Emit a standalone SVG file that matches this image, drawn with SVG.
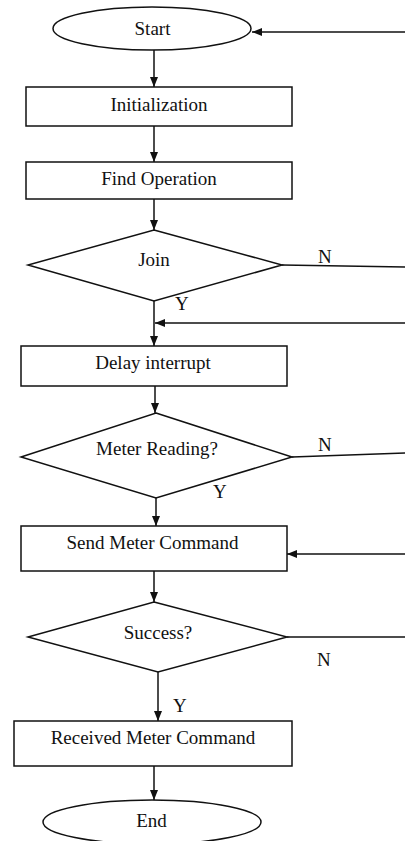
<svg xmlns="http://www.w3.org/2000/svg" width="405" height="841" viewBox="0 0 405 841">
<style>
.s{fill:#fff;stroke:#111;stroke-width:1.5}
.t{font-family:"Liberation Serif","Times New Roman",serif;font-size:19px;fill:#111;text-anchor:middle}
.l{font-family:"Liberation Serif","Times New Roman",serif;font-size:19px;fill:#111}
.c{fill:none;stroke:#111;stroke-width:1.5}
</style>
<defs>
<marker id="a" markerWidth="10" markerHeight="8" refX="10" refY="4" orient="auto" markerUnits="userSpaceOnUse">
<path d="M0,0 L10,4 L0,8 z" fill="#111"/>
</marker>
</defs>
<rect width="405" height="841" fill="#fff"/>
<g id="connectors">
<line class="c" x1="405" y1="32" x2="252" y2="32" marker-end="url(#a)"/>
<line class="c" x1="154" y1="50" x2="154" y2="87" marker-end="url(#a)"/>
<line class="c" x1="154" y1="126" x2="154" y2="162" marker-end="url(#a)"/>
<line class="c" x1="154" y1="199" x2="154" y2="230" marker-end="url(#a)"/>
<line class="c" x1="282" y1="265" x2="405" y2="267"/>
<line class="c" x1="154" y1="301" x2="154" y2="346" marker-end="url(#a)"/>
<line class="c" x1="405" y1="323" x2="155" y2="323" marker-end="url(#a)"/>
<line class="c" x1="155" y1="386" x2="155" y2="413" marker-end="url(#a)"/>
<line class="c" x1="292" y1="457" x2="405" y2="453"/>
<line class="c" x1="156" y1="498" x2="156" y2="526" marker-end="url(#a)"/>
<line class="c" x1="405" y1="554" x2="287" y2="554" marker-end="url(#a)"/>
<line class="c" x1="154" y1="571" x2="154" y2="602" marker-end="url(#a)"/>
<line class="c" x1="287" y1="637" x2="405" y2="637"/>
<line class="c" x1="158" y1="672" x2="158" y2="721" marker-end="url(#a)"/>
<line class="c" x1="154" y1="766" x2="154" y2="800" marker-end="url(#a)"/>
<text class="l" x="318" y="263">N</text>
<text class="l" x="175" y="310">Y</text>
<text class="l" x="318" y="451">N</text>
<text class="l" x="213" y="498">Y</text>
<text class="l" x="317" y="666">N</text>
<text class="l" x="173" y="712">Y</text>
</g>
<g id="start">
<ellipse class="s" cx="152" cy="28.5" rx="99" ry="21.5"/>
<text class="t" x="152.5" y="35">Start</text>
</g>
<g id="init">
<rect class="s" x="26" y="87" width="266" height="39"/>
<text class="t" x="159" y="111">Initialization</text>
</g>
<g id="find">
<rect class="s" x="26" y="162" width="266" height="37"/>
<text class="t" x="159" y="185">Find Operation</text>
</g>
<g id="join">
<polygon class="s" points="154,230 282,265 154,301 28,265"/>
<text class="t" x="154" y="266">Join</text>
</g>
<g id="delay">
<rect class="s" x="21" y="346" width="266" height="40"/>
<text class="t" x="153" y="369">Delay interrupt</text>
</g>
<g id="meter">
<polygon class="s" points="156,413 292,457 156,498 21,457"/>
<text class="t" x="157" y="455">Meter Reading?</text>
</g>
<g id="send">
<rect class="s" x="21" y="526" width="266" height="45"/>
<text class="t" x="152.5" y="549">Send Meter Command</text>
</g>
<g id="success">
<polygon class="s" points="154,602 287,637 158,672 28,637"/>
<text class="t" x="158" y="639">Success?</text>
</g>
<g id="received">
<rect class="s" x="14" y="721" width="278" height="45"/>
<text class="t" x="153" y="744">Received Meter Command</text>
</g>
<g id="end">
<ellipse class="s" cx="152" cy="822" rx="109" ry="22"/>
<text class="t" x="151.5" y="827">End</text>
</g>
</svg>
